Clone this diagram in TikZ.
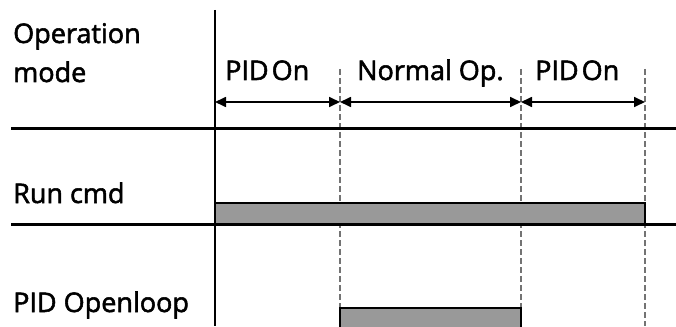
\documentclass[tikz,border=0pt]{standalone}
\usepackage{fontspec}
\font\lblraw="Open Sans:embolden=2.0" at 27pt
\usetikzlibrary{arrows.meta}
\begin{document}
\begin{tikzpicture}[x=1pt,y=-1pt,
  lbl/.style={anchor=base west,inner sep=0pt,font=\lblraw},
  axis/.style={line width=3pt,black},
  guide/.style={draw=black!55,line width=1.6pt,dash pattern=on 6pt off 3pt},
  span/.style={line width=1.7pt,{Triangle[length=11pt,width=10pt]}-{Triangle[length=11pt,width=10pt]}},
  bar/.style={fill=black!40,draw=black,line width=1.5pt}]
\useasboundingbox (0,0) rectangle (676,326);
% time marks
\coordinate (a0) at (215,102);
\coordinate (a1) at (340,102);
\coordinate (a2) at (521,102);
\coordinate (a3) at (645,102);
\coordinate (g1t) at (340,69); \coordinate (g1b) at (340,326);
\coordinate (g2t) at (521,69); \coordinate (g2b) at (521,326);
\coordinate (g3t) at (645,69); \coordinate (g3b) at (645,326);
\draw[guide] (g1t) -- (g1b);
\draw[guide] (g2t) -- (g2b);
\draw[guide] (g3t) -- (g3b);
% axes
\coordinate (vt) at (215,10); \coordinate (vb) at (215,326);
\coordinate (h1l) at (11,128); \coordinate (h1r) at (676,128);
\coordinate (h2l) at (11,224); \coordinate (h2r) at (676,224);
% bars
\draw[bar] (215,224) rectangle (645,203);
\draw[bar] (340,330) -- (340,308) -- (521,308) -- (521,330);
\draw[line width=2.3pt] (vt) -- (vb);
\draw[axis] (h1l) -- (h1r);
\draw[axis] (h2l) -- (h2r);
% spans
\draw[span] (a0) -- (a1);
\draw[span] (a1) -- (a2);
\draw[span] (a2) -- (a3);
% labels
\node[lbl] (op1) at (13,43) {Operation};
\node[lbl] (op2) at (13,82) {mode};
\node[lbl] (p1) at (225,80) {PID\kern3pt On};
\node[lbl] (n1) at (357,80) {Normal Op.};
\node[lbl] (p2) at (535,80) {PID\kern3pt On};
\node[lbl] (rc) at (13,203) {Run cmd};
\node[lbl] (po) at (13,312) {PID Openloop};
\end{tikzpicture}
\end{document}
